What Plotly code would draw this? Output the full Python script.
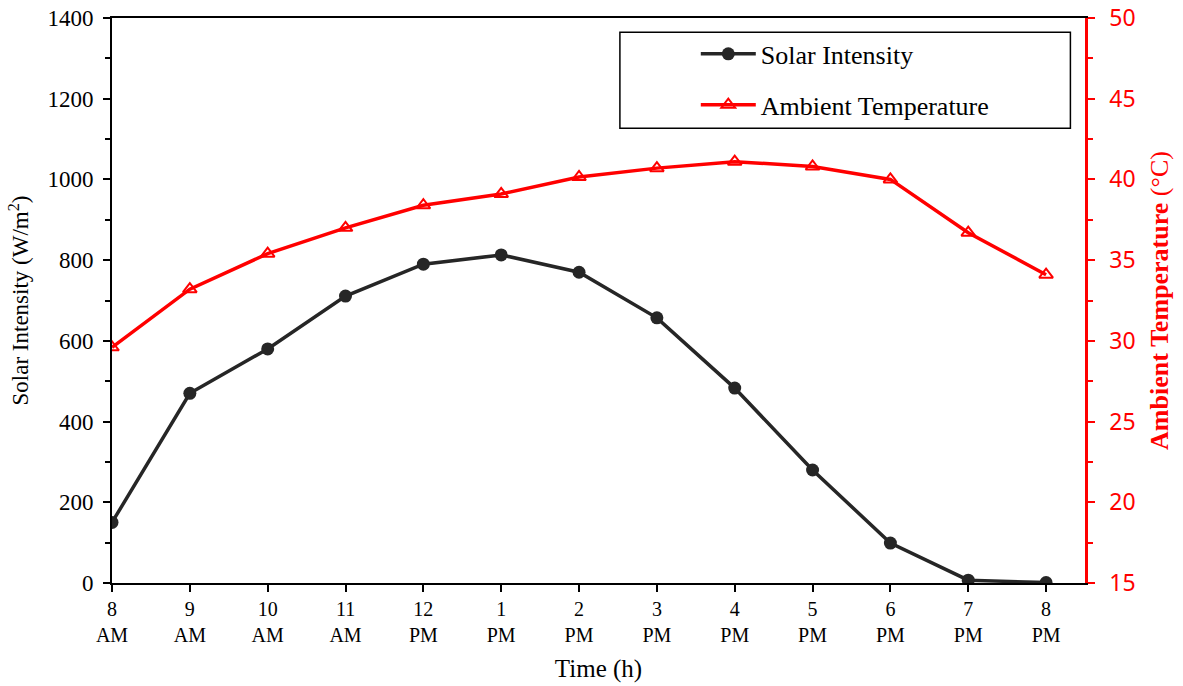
import plotly.graph_objects as go

hours = list(range(13))
tick_labels = ["8<br>AM", "9<br>AM", "10<br>AM", "11<br>AM", "12<br>PM", "1<br>PM", "2<br>PM",
               "3<br>PM", "4<br>PM", "5<br>PM", "6<br>PM", "7<br>PM", "8<br>PM"]
solar = [150, 470, 580, 711, 790, 813, 770, 657, 483, 280, 99, 7, 1]
temp = [29.6, 33.2, 35.4, 37.0, 38.4, 39.1, 40.15, 40.7, 41.1, 40.8, 40.0, 36.7, 34.1]

serif = "Liberation Serif, Times New Roman, serif"

fig = go.Figure()
fig.add_trace(go.Scatter(
    x=hours, y=solar, name="Solar Intensity", mode="lines+markers",
    line=dict(color="#262626", width=3.5),
    marker=dict(symbol="circle", size=13, color="#262626"),
    legendgroup="a", yaxis="y"))
fig.add_trace(go.Scatter(
    x=hours, y=temp, name="Ambient Temperature", mode="lines+markers",
    line=dict(color="#ff0000", width=3.5),
    marker=dict(symbol="triangle-up-open", size=12, color="#ff0000", line=dict(width=2)),
    legendgroup="b", yaxis="y2"))

fig.update_layout(
    width=1183, height=686,
    margin=dict(l=112, r=98, t=18, b=103, autoexpand=False),
    plot_bgcolor="white", paper_bgcolor="white",
    font=dict(family=serif, size=20, color="black"),
    showlegend=True,
    legend=dict(x=0.6, y=0.978, xanchor="left", yanchor="top",
                bgcolor="rgba(0,0,0,0)", borderwidth=0,
                font=dict(family=serif, size=26, color="black"),
                itemwidth=55, tracegroupgap=14),
    xaxis=dict(range=[0, 12.5], tickvals=hours, ticktext=tick_labels,
               showgrid=False, zeroline=False, automargin=False,
               showline=True, linecolor="black", linewidth=2, mirror=True,
               ticks="outside", ticklen=7, tickwidth=2, tickcolor="black",
               tickfont=dict(family=serif, size=20),
               title=dict(text="Time (h)", font=dict(family=serif, size=25), standoff=14)),
    yaxis=dict(range=[0, 1400], dtick=200, showgrid=False, zeroline=False, automargin=False,
               showline=True, linecolor="black", linewidth=2,
               ticks="outside", ticklen=7, tickwidth=2, tickcolor="black",
               ticklabelstandoff=5,
               minor=dict(dtick=100, ticks="outside", ticklen=5, tickwidth=1.5, tickcolor="black"),
               tickfont=dict(family=serif, size=23),
               title=dict(text="Solar Intensity (W/m<sup>2</sup>)", font=dict(family=serif, size=23), standoff=12)),
    yaxis2=dict(range=[15, 50], dtick=5, overlaying="y", side="right",
                showgrid=False, zeroline=False, automargin=False,
                showline=True, linecolor="#ff0000", linewidth=2.5,
                ticks="outside", ticklen=7, tickwidth=2, tickcolor="#ff0000",
                ticklabelstandoff=10,
                minor=dict(dtick=2.5, ticks="outside", ticklen=5, tickwidth=1.5, tickcolor="#ff0000"),
                tickfont=dict(family="Noto Sans, DejaVu Sans, sans-serif", size=23, color="#ff0000"),
                title=dict(text="<b>Ambient Temperature</b> (°C)",
                           font=dict(family=serif, size=26, color="#ff0000"), standoff=16)),
    shapes=[dict(type="rect", xref="paper", yref="paper",
                 x0=0.522, x1=0.985, y0=0.805, y1=0.975,
                 line=dict(color="black", width=1.5), fillcolor="rgba(0,0,0,0)")],
)

fig.write_html("out.html")
